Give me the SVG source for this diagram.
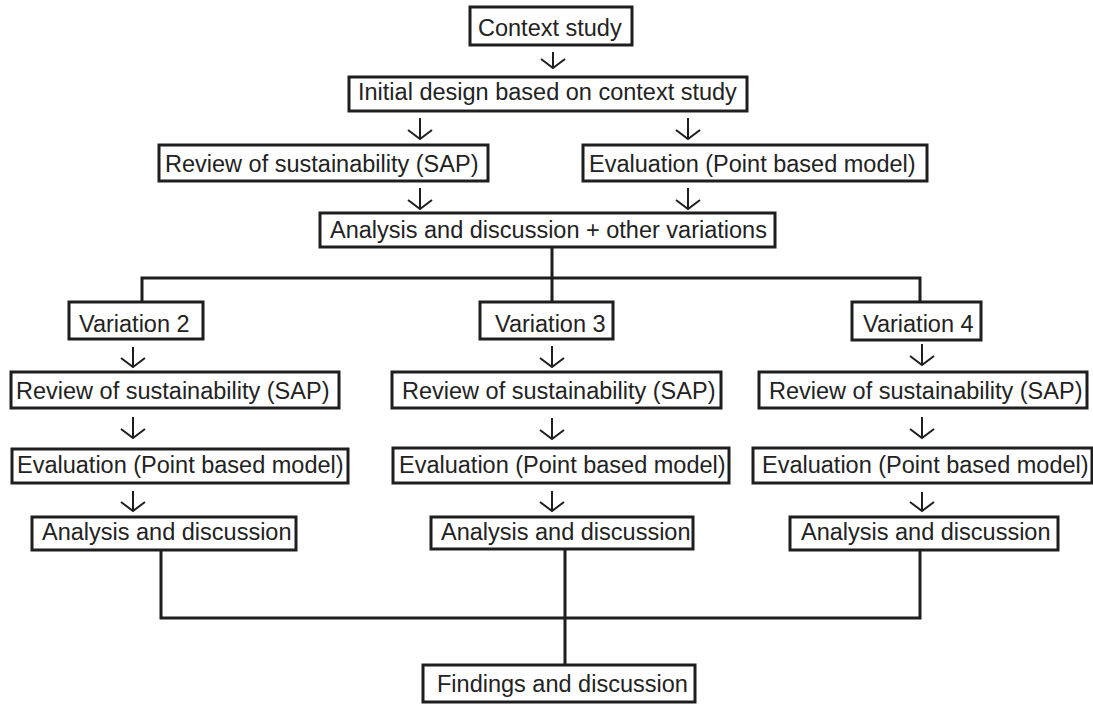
<svg xmlns="http://www.w3.org/2000/svg" width="1093" height="704" viewBox="0 0 1093 704">
<style>
.box{fill:#fff;stroke:#1e1e1e;stroke-width:3}
.t{font-family:"Liberation Sans",Arial,sans-serif;font-size:23.5px;fill:#222}
.ln{fill:none;stroke:#1e1e1e;stroke-width:3}
.ar{fill:none;stroke:#1e1e1e;stroke-width:2}
</style>
<rect width="1093" height="704" fill="#fff"/>
<g id="connectors">
<path class="ln" d="M552,247V278M142,302V278H920V302M552,278V302"/>
<path class="ln" d="M161,550V618H920V550M565,549V665"/>
<path class="ar" d="M553,52V68M541,59L553,68L565,59"/>
<path class="ar" d="M420,118V139M408,130L420,139L432,130"/>
<path class="ar" d="M688,118V139M676,130L688,139L700,130"/>
<path class="ar" d="M420,188V209M408,200L420,209L432,200"/>
<path class="ar" d="M688,188V209M676,200L688,209L700,200"/>
<path class="ar" d="M133,347V367M121,358L133,367L145,358"/>
<path class="ar" d="M552,346V367M540,358L552,367L564,358"/>
<path class="ar" d="M922,344V365M910,356L922,365L934,356"/>
<path class="ar" d="M133,417V438M121,429L133,438L145,429"/>
<path class="ar" d="M552,418V439M540,430L552,439L564,430"/>
<path class="ar" d="M922,417V438M910,429L922,438L934,429"/>
<path class="ar" d="M133,491V511M121,502L133,511L145,502"/>
<path class="ar" d="M552,491V511M540,502L552,511L564,502"/>
<path class="ar" d="M922,492V511M910,502L922,511L934,502"/>
</g>
<g id="context"><rect class="box" x="470" y="7" width="162" height="38"/><text class="t" x="478" y="36">Context study</text></g>
<g id="initial"><rect class="box" x="349" y="77" width="398" height="34"/><text class="t" x="358" y="100">Initial design based on context study</text></g>
<g id="review1"><rect class="box" x="159" y="145" width="329" height="36"/><text class="t" x="165" y="172">Review of sustainability (SAP)</text></g>
<g id="eval1"><rect class="box" x="583" y="145" width="344" height="36"/><text class="t" x="589" y="172">Evaluation (Point based model)</text></g>
<g id="analysis-other"><rect class="box" x="320" y="213" width="455" height="34"/><text class="t" x="330" y="238">Analysis and discussion + other variations</text></g>
<g id="var2"><rect class="box" x="69" y="302" width="134" height="37"/><text class="t" x="79" y="332">Variation 2</text></g>
<g id="var3"><rect class="box" x="480" y="302" width="133" height="37"/><text class="t" x="495" y="332">Variation 3</text></g>
<g id="var4"><rect class="box" x="852" y="302" width="129" height="38"/><text class="t" x="863" y="332">Variation 4</text></g>
<g id="review2"><rect class="box" x="11" y="372" width="328" height="36"/><text class="t" x="16" y="399">Review of sustainability (SAP)</text></g>
<g id="review3"><rect class="box" x="392" y="372" width="329" height="36"/><text class="t" x="402" y="399">Review of sustainability (SAP)</text></g>
<g id="review4"><rect class="box" x="759" y="372" width="328" height="36"/><text class="t" x="769" y="399">Review of sustainability (SAP)</text></g>
<g id="eval2"><rect class="box" x="12" y="449" width="336" height="34"/><text class="t" x="17" y="473">Evaluation (Point based model)</text></g>
<g id="eval3"><rect class="box" x="393" y="448" width="336" height="35"/><text class="t" x="399" y="473">Evaluation (Point based model)</text></g>
<g id="eval4"><rect class="box" x="753" y="448" width="339" height="35"/><text class="t" x="762" y="473">Evaluation (Point based model)</text></g>
<g id="analysis2"><rect class="box" x="32" y="517" width="264" height="33"/><text class="t" x="42" y="540">Analysis and discussion</text></g>
<g id="analysis3"><rect class="box" x="431" y="517" width="262" height="32"/><text class="t" x="441" y="540">Analysis and discussion</text></g>
<g id="analysis4"><rect class="box" x="790" y="517" width="268" height="33"/><text class="t" x="801" y="540">Analysis and discussion</text></g>
<g id="findings"><rect class="box" x="423" y="665" width="272" height="37"/><text class="t" x="437" y="692">Findings and discussion</text></g>
</svg>
